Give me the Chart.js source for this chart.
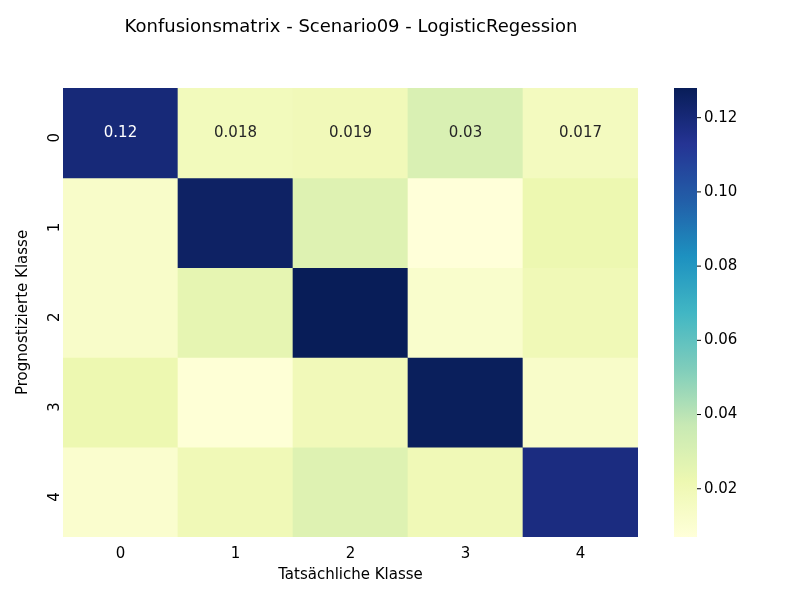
<!DOCTYPE html>
<html><head><meta charset="utf-8">
<script src="https://cdn.jsdelivr.net/npm/chart.js@4"></script>
<style>body{margin:0;background:#fff}#wrap{width:800px;height:600px}</style>
</head><body><div id="wrap"><canvas id="c"></canvas></div>
<script>
const classLabels = ['0', '1', '2', '3', '4'];
// rows = Prognostizierte Klasse, columns = Tatsächliche Klasse
const matrix = [
  [0.12, 0.018, 0.019, 0.03, 0.017],
  [0.013, 0.125, 0.028, 0.007, 0.022],
  [0.013, 0.025, 0.128, 0.012, 0.02],
  [0.022, 0.008, 0.019, 0.127, 0.013],
  [0.011, 0.02, 0.028, 0.02, 0.118]
];
const annotatedRows = [0];
const cbTicks = [0.02, 0.04, 0.06, 0.08, 0.10, 0.12];
const vmin = 0.007, vmax = 0.128;

// YlGnBu
const stops = ['#ffffd9','#edf8b1','#c7e9b4','#7fcdbb','#41b6c4','#1d91c0','#225ea8','#253494','#081d58']
  .map(h => [1,3,5].map(i => parseInt(h.substr(i,2),16)));
function cmap(v) {
  let t = Math.min(1, Math.max(0, (v - vmin) / (vmax - vmin))) * (stops.length - 1);
  const i = Math.min(stops.length - 2, Math.floor(t)), f = t - i;
  const c = stops[i].map((a, k) => Math.round(a + (stops[i+1][k] - a) * f));
  return `rgb(${c[0]},${c[1]},${c[2]})`;
}

const datasets = matrix.map((row, r) => ({
  data: row.map(() => 1),
  backgroundColor: row.map(cmap),
  borderWidth: 0, barPercentage: 1, categoryPercentage: 1
}));

const FONT = 'DejaVu Sans';
const extras = {
  id: 'extras',
  afterDraw(chart) {
    const ctx = chart.ctx, a = chart.chartArea;
    const w = (a.right - a.left) / 5, h = (a.bottom - a.top) / 5;
    ctx.save();
    ctx.font = `15px "${FONT}"`;
    ctx.textAlign = 'center'; ctx.textBaseline = 'middle';
    annotatedRows.forEach(r => matrix[r].forEach((v, c) => {
      ctx.fillStyle = v > 0.07 ? '#fff' : '#262626';
      ctx.fillText(String(v), a.left + w * (c + 0.5), a.top + h * (r + 0.5));
    }));
    // colorbar
    const x0 = 674, x1 = 697, top = a.top, bot = a.bottom;
    const g = ctx.createLinearGradient(0, bot, 0, top);
    for (let i = 0; i <= 40; i++) g.addColorStop(i / 40, cmap(vmin + (vmax - vmin) * i / 40));
    ctx.fillStyle = g; ctx.fillRect(x0, top, x1 - x0, bot - top);
    ctx.fillStyle = '#000'; ctx.strokeStyle = '#000'; ctx.lineWidth = 1;
    ctx.textAlign = 'left'; ctx.font = `15px "${FONT}"`;
    cbTicks.forEach(t => {
      const y = bot - (t - vmin) / (vmax - vmin) * (bot - top);
      ctx.beginPath(); ctx.moveTo(x1, y); ctx.lineTo(x1 + 4, y); ctx.stroke();
      ctx.fillText(t.toFixed(2), x1 + 7, y);
    });
    // title, centred over the plot area
    ctx.font = `18px "${FONT}"`; ctx.textAlign = 'center'; ctx.textBaseline = 'middle';
    ctx.fillText(titleText, 351, 27);
    ctx.restore();
  }
};
const titleText = 'Konfusionsmatrix - Scenario09 - LogisticRegession';

new Chart(document.getElementById('c'), {
  type: 'bar',
  data: { labels: classLabels, datasets },
  plugins: [extras],
  options: {
    responsive: true, maintainAspectRatio: false, animation: false,
    layout: { padding: { left: 12, right: 162, top: 88, bottom: 16 } },
    plugins: { legend: { display: false }, tooltip: { enabled: false } },
    scales: {
      x: { stacked: true, grid: { display: false, drawTicks: true, tickLength: 5, tickColor: '#000' },
        border: { display: false },
        ticks: { color: '#000', font: { family: FONT, size: 15 } },
        title: { display: true, text: 'Tatsächliche Klasse', color: '#000', font: { family: FONT, size: 15 }, padding: 0 } },
      y: { stacked: true, reverse: true, min: 0, max: 5,
        grid: { display: false, tickLength: 5, tickColor: '#000' }, border: { display: false },
        afterBuildTicks: s => { s.ticks = classLabels.map((_, i) => ({ value: i + 0.5 })); },
        ticks: { color: '#000', font: { family: FONT, size: 15 }, minRotation: 90, maxRotation: 90,
          callback: v => classLabels[Math.floor(v)] },
        title: { display: true, text: 'Prognostizierte Klasse', color: '#000', font: { family: FONT, size: 15 }, padding: 2 } }
    }
  }
});
</script></body></html>
